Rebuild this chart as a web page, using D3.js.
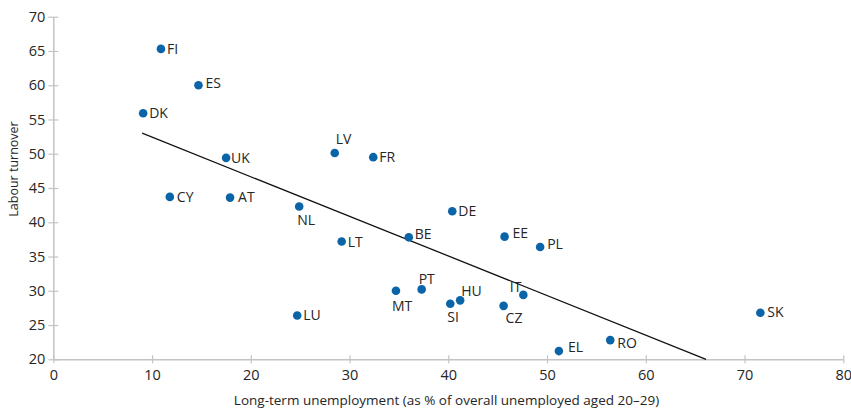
<!DOCTYPE html>
<html>
<head>
<meta charset="utf-8">
<script src="https://cdn.jsdelivr.net/npm/d3@7"></script>
<style>
  html, body { margin: 0; padding: 0; background: #fff; }
  svg { display: block; font-family: "Open Sans", "Noto Sans", sans-serif; }
</style>
</head>
<body>
<svg id="chart" width="851" height="412"></svg>
<script>
// Country codes, long-term unemployment share (x) and labour turnover (y)
const countries = ["FI","ES","DK","UK","CY","AT","NL","LU","LV","FR","DE","BE","LT","EE","PL","MT","PT","SI","HU","CZ","IT","EL","RO","SK"];
const longTermUnemp = [10.9,14.7,9.1,17.5,11.8,17.9,24.9,24.7,28.5,32.4,40.4,36.0,29.2,45.7,49.3,34.7,37.3,40.2,41.2,45.6,47.6,51.2,56.4,71.6];
const labourTurnover = [65.3,60.0,55.9,49.4,43.7,43.6,42.3,26.4,50.1,49.5,41.6,37.8,37.2,37.9,36.4,30.0,30.2,28.1,28.6,27.8,29.4,21.2,22.8,26.8];

// Fitted trend line endpoints
const trendX = [9.0, 66.1];
const trendY = [53.0, 20.0];

// Axis ticks
const xTicks = [0, 10, 20, 30, 40, 50, 60, 70, 80];
const yTicks = [20, 25, 30, 35, 40, 45, 50, 55, 60, 65, 70];

const xTitle = "Long-term unemployment (as % of overall unemployed aged 20\u201329)";
const yTitle = "Labour turnover";

// Label placement relative to each dot (layout only)
const labelLayout = {
  FI: [6, 0, "start"], ES: [7, -2, "start"], DK: [6, 0, "start"], UK: [5, 0, "start"],
  CY: [7, 0, "start"], AT: [8, 0, "start"], NL: [-2, 14, "start"], LU: [6, 0, "start"],
  LV: [1, -14, "start"], FR: [6, 0, "start"], DE: [6, 0, "start"], BE: [6, -3, "start"],
  LT: [6, 1, "start"], EE: [8, -4, "start"], PL: [7, -3, "start"], MT: [-4, 15, "start"],
  PT: [-3, -10, "start"], SI: [-3, 13, "start"], HU: [1, -9, "start"], CZ: [2, 12, "start"],
  IT: [-2, -8, "end"], EL: [9, -4, "start"], RO: [7, 3, "start"], SK: [7, -1, "start"]
};

const svg = d3.select("#chart");
const margin = { left: 53.3, right: 851 - 843.3, top: 16.7, bottom: 412 - 359.3 };
const width = 851, height = 412;

const x = d3.scaleLinear().domain([0, 80]).range([margin.left, width - margin.right]);
const y = d3.scaleLinear().domain([20, 70]).range([height - margin.bottom, margin.top]);

const axisColor = "#c4c4c4";
const textColor = "#262626";

// X axis
const gx = svg.append("g")
  .attr("transform", `translate(0,${y(20)})`)
  .call(d3.axisBottom(x).tickValues(xTicks).tickSize(0).tickPadding(10));
gx.select(".domain").attr("stroke", axisColor).attr("stroke-width", 1.5);
gx.selectAll(".tick line").remove();
gx.selectAll(".tick").append("line")
  .attr("y1", -4).attr("y2", 4).attr("stroke", axisColor).attr("stroke-width", 1.2);
gx.selectAll(".tick text").attr("fill", textColor).attr("font-size", 14.5)
  .attr("font-family", "Open Sans, sans-serif");

// Y axis
const gy = svg.append("g")
  .attr("transform", `translate(${x(0)},0)`)
  .call(d3.axisLeft(y).tickValues(yTicks).tickSize(0).tickPadding(8));
gy.select(".domain").attr("stroke", axisColor).attr("stroke-width", 1.5);
gy.selectAll(".tick line").remove();
gy.selectAll(".tick").append("line")
  .attr("x1", -5).attr("x2", 5).attr("stroke", axisColor).attr("stroke-width", 1.2);
gy.selectAll(".tick text").attr("fill", textColor).attr("font-size", 14.5)
  .attr("font-family", "Open Sans, sans-serif");

// Axis titles
svg.append("text")
  .attr("x", (238 + 655) / 2)
  .attr("y", 405)
  .attr("text-anchor", "middle")
  .attr("font-size", 13.5)
  .attr("fill", textColor)
  .text(xTitle);

svg.append("text")
  .attr("transform", `translate(18,169) rotate(-90)`)
  .attr("text-anchor", "middle")
  .attr("font-size", 12.5)
  .attr("fill", textColor)
  .text(yTitle);

// Trend line
const trend = trendX.map((d, i) => [d, trendY[i]]);
svg.append("path")
  .datum(trend)
  .attr("d", d3.line().x(d => x(d[0])).y(d => y(d[1])))
  .attr("stroke", "#111")
  .attr("stroke-width", 1.3)
  .attr("fill", "none");

// Points and labels
const points = countries.map((c, i) => ({ c, x: longTermUnemp[i], y: labourTurnover[i] }));

svg.append("g").selectAll("circle")
  .data(points)
  .join("circle")
  .attr("cx", d => x(d.x))
  .attr("cy", d => y(d.y))
  .attr("r", 4.3)
  .attr("fill", "#0a64a8");

svg.append("g").selectAll("text")
  .data(points)
  .join("text")
  .attr("x", d => x(d.x) + labelLayout[d.c][0])
  .attr("y", d => y(d.y) + labelLayout[d.c][1])
  .attr("dy", "0.35em")
  .attr("text-anchor", d => labelLayout[d.c][2])
  .attr("font-size", 14)
  .attr("fill", textColor)
  .text(d => d.c);
</script>
</body>
</html>
